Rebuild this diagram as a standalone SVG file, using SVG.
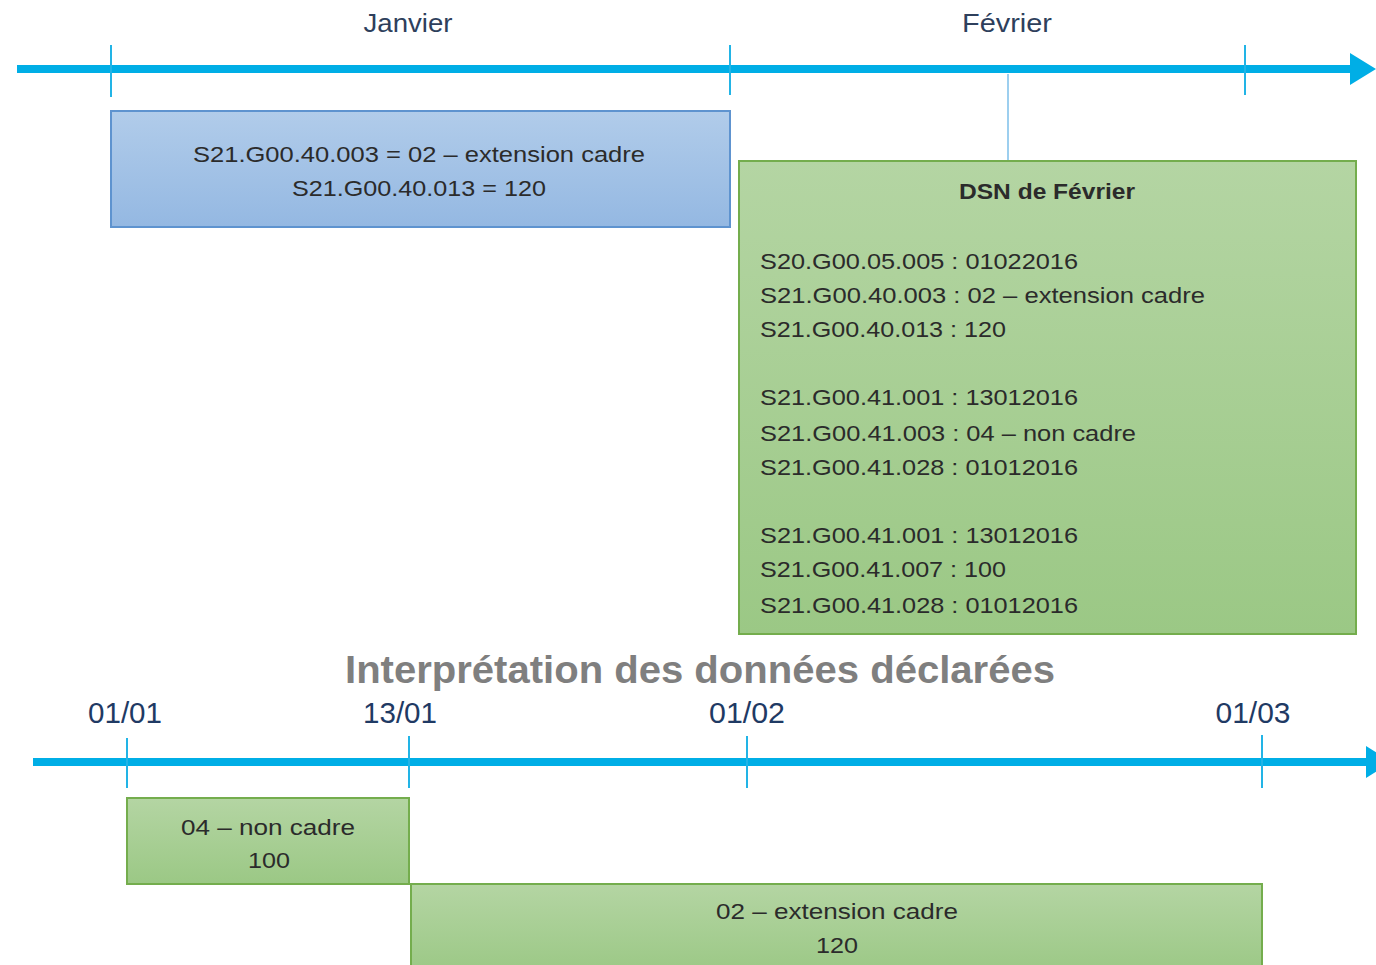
<svg xmlns="http://www.w3.org/2000/svg" width="1376" height="965" viewBox="0 0 1376 965">
<defs>
<linearGradient id="gBlue" x1="0" y1="0" x2="0" y2="1"><stop offset="0" stop-color="#B1CCEA"/><stop offset="1" stop-color="#94B8E2"/></linearGradient>
<linearGradient id="gGreen" x1="0" y1="0" x2="0" y2="1"><stop offset="0" stop-color="#B4D5A3"/><stop offset="1" stop-color="#9BC885"/></linearGradient>
<style>
.axis{stroke:#00AEE6;stroke-width:8;fill:none}
.tick{stroke:#22B4E6;stroke-width:2;fill:none}
.head{fill:#00AEE6}
.blue{fill:url(#gBlue);stroke:#5E93CF;stroke-width:2}
.green{fill:url(#gGreen);stroke:#74AD4D;stroke-width:2}
.t{font-family:"Liberation Sans",Arial,sans-serif;font-size:22px;fill:#2B2B2B}
.c{text-anchor:middle}
.month{font-family:"Liberation Sans",Arial,sans-serif;font-size:26px;fill:#2E3F5C;text-anchor:middle}
.date{font-family:"Liberation Sans",Arial,sans-serif;font-size:29px;fill:#1F3A64;text-anchor:middle}
.title{font-family:"Liberation Sans",Arial,sans-serif;font-size:39px;font-weight:bold;fill:#7F7F7F;text-anchor:middle}
</style>
</defs>
<g id="connectors">
<line class="axis" x1="17" y1="69" x2="1352" y2="69"/>
<polygon class="head" points="1350,53 1376,69 1350,85"/>
<line class="tick" x1="111" y1="45" x2="111" y2="97"/>
<line class="tick" x1="730" y1="45" x2="730" y2="95"/>
<line class="tick" x1="1245" y1="45" x2="1245" y2="95"/>
<line x1="1008" y1="74" x2="1008" y2="160" stroke="#9DCFEF" stroke-width="2"/>
<line class="axis" x1="33" y1="762" x2="1368" y2="762"/>
<polygon class="head" points="1366,746 1392,762 1366,778"/>
<line class="tick" x1="127" y1="738" x2="127" y2="788"/>
<line class="tick" x1="409" y1="736" x2="409" y2="788"/>
<line class="tick" x1="747" y1="736" x2="747" y2="788"/>
<line class="tick" x1="1262" y1="735" x2="1262" y2="788"/>
</g>
<g id="labels-top">
<text class="month" x="408" y="32" textLength="89" lengthAdjust="spacingAndGlyphs">Janvier</text>
<text class="month" x="1007" y="32" textLength="90" lengthAdjust="spacingAndGlyphs">Février</text>
</g>
<g id="node-janvier">
<rect class="blue" x="111" y="111" width="619" height="116"/>
<text class="t c" x="419" y="162" textLength="452" lengthAdjust="spacingAndGlyphs">S21.G00.40.003 = 02 – extension cadre</text>
<text class="t c" x="419" y="196" textLength="254" lengthAdjust="spacingAndGlyphs">S21.G00.40.013 = 120</text>
</g>
<g id="node-dsn">
<rect class="green" x="739" y="161" width="617" height="473"/>
<text class="t c" x="1047" y="199" font-weight="bold" textLength="176" lengthAdjust="spacingAndGlyphs">DSN de Février</text>
<text class="t" x="760" y="269" textLength="318" lengthAdjust="spacingAndGlyphs">S20.G00.05.005 : 01022016</text>
<text class="t" x="760" y="303" textLength="445" lengthAdjust="spacingAndGlyphs">S21.G00.40.003 : 02 – extension cadre</text>
<text class="t" x="760" y="337" textLength="246" lengthAdjust="spacingAndGlyphs">S21.G00.40.013 : 120</text>
<text class="t" x="760" y="405" textLength="318" lengthAdjust="spacingAndGlyphs">S21.G00.41.001 : 13012016</text>
<text class="t" x="760" y="441" textLength="376" lengthAdjust="spacingAndGlyphs">S21.G00.41.003 : 04 – non cadre</text>
<text class="t" x="760" y="475" textLength="318" lengthAdjust="spacingAndGlyphs">S21.G00.41.028 : 01012016</text>
<text class="t" x="760" y="543" textLength="318" lengthAdjust="spacingAndGlyphs">S21.G00.41.001 : 13012016</text>
<text class="t" x="760" y="577" textLength="246" lengthAdjust="spacingAndGlyphs">S21.G00.41.007 : 100</text>
<text class="t" x="760" y="613" textLength="318" lengthAdjust="spacingAndGlyphs">S21.G00.41.028 : 01012016</text>
</g>
<g id="title">
<text class="title" x="700" y="683" textLength="710" lengthAdjust="spacingAndGlyphs">Interprétation des données déclarées</text>
</g>
<g id="labels-bottom">
<text class="date" x="125" y="723" textLength="74" lengthAdjust="spacingAndGlyphs">01/01</text>
<text class="date" x="400" y="723" textLength="74" lengthAdjust="spacingAndGlyphs">13/01</text>
<text class="date" x="747" y="723" textLength="76" lengthAdjust="spacingAndGlyphs">01/02</text>
<text class="date" x="1253" y="723" textLength="75" lengthAdjust="spacingAndGlyphs">01/03</text>
</g>
<g id="node-noncadre">
<rect class="green" x="127" y="798" width="282" height="86"/>
<text class="t c" x="268" y="835" textLength="174" lengthAdjust="spacingAndGlyphs">04 – non cadre</text>
<text class="t c" x="269" y="868" textLength="42" lengthAdjust="spacingAndGlyphs">100</text>
</g>
<g id="node-extension">
<rect class="green" x="411" y="884" width="851" height="90"/>
<text class="t c" x="837" y="919" textLength="242" lengthAdjust="spacingAndGlyphs">02 – extension cadre</text>
<text class="t c" x="837" y="953" textLength="42" lengthAdjust="spacingAndGlyphs">120</text>
</g>
</svg>
